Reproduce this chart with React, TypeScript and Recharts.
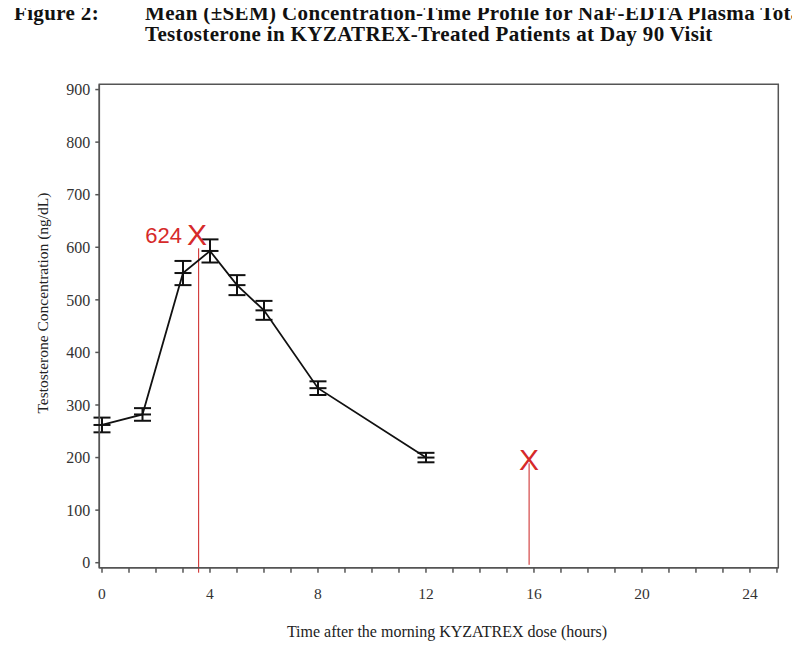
import {
  ComposedChart,
  Line,
  XAxis,
  YAxis,
  ErrorBar,
  ReferenceArea,
  ReferenceLine,
  ReferenceDot,
} from "recharts";

const hours = [0, 1.5, 3, 4, 5, 6, 8, 12];
const meanConc = [262, 282, 551, 593, 528, 480, 332, 200];
const semConc = [14, 12, 23, 22, 19, 18, 13, 9];

const xTicks = [0, 1, 2, 3, 4, 5, 6, 7, 8, 9, 10, 11, 12, 13, 14, 15, 16, 17, 18, 19, 20, 21, 22, 23, 24, 25];
const xLabelTicks = [0, 4, 8, 12, 16, 20, 24];
const yTicks = [0, 100, 200, 300, 400, 500, 600, 700, 800, 900];

// red hand-drawn marks on top of the figure
const markHours = [3.52, 15.82];
const markValues = [624, 197];
const markTexts = ["624", ""];
const guideHours = [3.58, 15.82];
const guideTops = [598, 189];
const guideBottoms = [-19, -4];

const X_DOMAIN: [number, number] = [-0.1, 25.05];
const Y_DOMAIN: [number, number] = [-9.5, 910];

const SERIF = "'Liberation Serif', 'Times New Roman', serif";
const SANS = "'Liberation Sans', Arial, sans-serif";
const RED = "#d62a2a";

const data = hours.map((h, i) => ({ hour: h, mean: meanConc[i], sem: semConc[i] }));

function HourTick({ x, y, payload }: any) {
  if (!xLabelTicks.includes(payload.value)) return <g />;
  return (
    <text x={x} y={y} dy={24} textAnchor="middle" fill="#333" fontSize={15.5} fontFamily={SERIF}>
      {payload.value}
    </text>
  );
}

function MeanDash({ cx, cy, index }: any) {
  return <line key={index} x1={cx - 8.5} x2={cx + 8.5} y1={cy} y2={cy} stroke="#111" strokeWidth={2} />;
}

function CrossMark({ cx, cy, text }: any) {
  return (
    <g>
      <text x={cx} y={cy + 10.5} textAnchor="middle" fill={RED} fontSize={30} fontFamily={SANS}>
        X
      </text>
      {text && (
        <text x={cx - 15} y={cy + 8} textAnchor="end" fill={RED} fontSize={22} fontFamily={SANS}>
          {text}
        </text>
      )}
    </g>
  );
}

export default function App() {
  return (
    <div style={{ position: "relative", width: 792, height: 641, background: "#fff" }}>
      <ComposedChart
        width={792}
        height={641}
        data={data}
        margin={{ top: 76.3, right: 21.7, left: 0, bottom: 51.3 }}
      >
        <XAxis
          dataKey="hour"
          type="number"
          domain={X_DOMAIN}
          ticks={xTicks}
          interval={0}
          height={30}
          tickSize={5}
          tick={<HourTick />}
          stroke="#555"
          strokeWidth={1.5}
        />
        <YAxis
          type="number"
          domain={Y_DOMAIN}
          ticks={yTicks}
          interval={0}
          width={91.3}
          tickSize={4}
          tickMargin={5}
          stroke="#555"
          strokeWidth={1.5}
          tick={{ fill: "#333", fontSize: 16, fontFamily: SERIF }}
        />
        <ReferenceArea
          x1={X_DOMAIN[0]}
          x2={X_DOMAIN[1]}
          y1={Y_DOMAIN[0]}
          y2={Y_DOMAIN[1]}
          fill="none"
          stroke="#555"
          strokeWidth={1.5}
          ifOverflow="visible"
        />
        {guideHours.map((h, i) => (
          <ReferenceLine
            key={`g${i}`}
            segment={[
              { x: h, y: guideTops[i] },
              { x: h, y: guideBottoms[i] },
            ]}
            stroke="#cc2020"
            strokeWidth={1}
            ifOverflow="visible"
          />
        ))}
        <Line
          dataKey="mean"
          stroke="#111"
          strokeWidth={1.8}
          dot={MeanDash}
          activeDot={false}
          isAnimationActive={false}
        >
          <ErrorBar dataKey="sem" direction="y" width={8.5} stroke="#111" strokeWidth={2} />
        </Line>
        {markHours.map((h, i) => (
          <ReferenceDot
            key={`m${i}`}
            x={h}
            y={markValues[i]}
            r={0}
            ifOverflow="visible"
            shape={(p: any) => <CrossMark {...p} text={markTexts[i]} />}
          />
        ))}
      </ComposedChart>
      <svg
        width={800}
        height={649}
        style={{ position: "absolute", left: -8, top: -8, pointerEvents: "none" }}
      >
        <g fontFamily={SERIF} fontWeight="bold" fontSize={21} letterSpacing={0.35} fill="#111">
          <text x={14} y={19.5}>Figure 2:</text>
          <text x={145} y={19.5}>Mean (±SEM) Concentration-Time Profile for NaF-EDTA Plasma Total</text>
          <text x={145} y={41}>Testosterone in KYZATREX-Treated Patients at Day 90 Visit</text>
        </g>
        <text x={447} y={636.5} textAnchor="middle" fontFamily={SERIF} fontSize={16} fill="#222">
          Time after the morning KYZATREX dose (hours)
        </text>
        <text
          transform="translate(47.5, 303) rotate(-90)"
          textAnchor="middle"
          fontFamily={SERIF}
          fontSize={15.5}
          fill="#222"
        >
          Testosterone Concentration (ng/dL)
        </text>
      </svg>
    </div>
  );
}
